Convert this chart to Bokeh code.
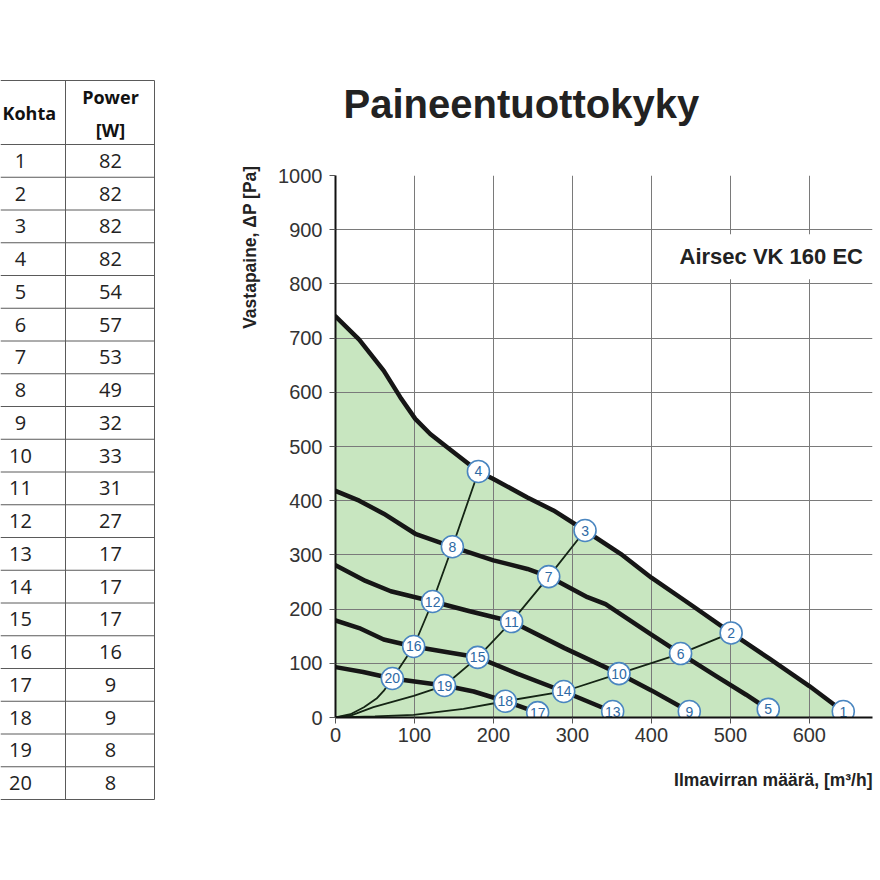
from bokeh.core.properties import value
from bokeh.embed import file_html
from bokeh.layouts import row
from bokeh.models import ColumnDataSource, FixedTicker, Label, Range1d, Title
from bokeh.plotting import figure
from bokeh.resources import INLINE

# table on the left: operating point -> power
kohta = list(range(1, 21))
power_w = [82, 82, 82, 82, 54, 57, 53, 49, 32, 33, 31, 27, 17, 17, 17, 16, 9, 9, 8, 8]

# fan curves, airflow [m3/h] vs pressure [Pa]
curve1_x = [0, 30, 61, 82, 101, 120, 141, 181, 200, 243, 276, 316, 361, 400, 450, 501, 550, 600, 643]
curve1_y = [740, 697, 640, 591, 551, 523, 499, 454, 440, 406, 382, 345, 302, 258, 208, 156, 108, 58, 11]
curve2_x = [0, 30, 61, 101, 148, 200, 243, 270, 319, 342, 400, 437, 480, 520, 548]
curve2_y = [418, 400, 376, 339, 315, 290, 274, 260, 222, 209, 153, 118, 78, 42, 15]
curve3_x = [0, 38, 70, 123, 170, 223, 290, 359, 400, 448]
curve3_y = [281, 252, 233, 214, 196, 177, 128, 81, 50, 11]
curve4_x = [0, 30, 61, 99, 140, 180, 230, 289, 350]
curve4_y = [179, 165, 144, 131, 121, 111, 81, 48, 11]
curve5_x = [0, 35, 72, 138, 175, 215, 256]
curve5_y = [93, 84, 72, 59, 48, 30, 9]

# system curves from the origin
sys1_x = [0, 19, 36, 52, 61, 72, 99, 123, 148, 181]
sys1_y = [0, 6, 19, 35, 49, 72, 131, 214, 315, 454]
sys2_x = [0, 20, 48, 99, 138, 180, 223, 270, 316]
sys2_y = [0, 4, 19, 40, 59, 111, 177, 260, 345]
sys3_x = [0, 50, 99, 162, 215, 289, 359, 437, 501]
sys3_y = [0, 2, 5, 16, 30, 48, 81, 118, 156]

# numbered points 1..20
point_x = [643, 501, 316, 181, 548, 437, 270, 148, 448, 359, 223, 123, 351, 289, 180, 99, 256, 215, 138, 72]
point_y = [11, 156, 345, 454, 15, 118, 260, 315, 11, 81, 177, 214, 11, 48, 111, 131, 9, 30, 59, 72]

x_ticks = [0, 100, 200, 300, 400, 500, 600, 700]
y_ticks = [0, 100, 200, 300, 400, 500, 600, 700, 800, 900, 1000]

H = 860

# ---------------- table ----------------
t = figure(width=200, height=H, x_range=Range1d(0, 200), y_range=Range1d(H, 0),
           toolbar_location=None, output_backend="svg", min_border=0,
           x_axis_location=None, y_axis_location=None)
t.grid.visible = False
t.outline_line_color = None
t.frame_align = False

table_top = 80
header_bottom = 144
row_h = 32.75
col_sep = 65
table_right = 154
table_bottom = header_bottom + len(kohta) * row_h

line_ys = [table_top] + [header_bottom + i * row_h for i in range(len(kohta) + 1)]
t.segment(x0=[0] * len(line_ys), y0=line_ys, x1=[table_right] * len(line_ys), y1=line_ys,
          line_color="#5a5a5a", line_width=1)
t.segment(x0=[col_sep, table_right], y0=[table_top, table_top],
          x1=[col_sep, table_right], y1=[table_bottom, table_bottom],
          line_color="#5a5a5a", line_width=1)

rows_y = [header_bottom + (i + 0.5) * row_h for i in range(len(kohta))]
t.text(x=[20] * len(kohta), y=rows_y, text=[str(k) for k in kohta],
       text_align="center", text_baseline="middle", text_font=value("Open Sans"),
       text_font_size="20px", text_color="#222222")
t.text(x=[110] * len(power_w), y=rows_y, text=[str(w) for w in power_w],
       text_align="center", text_baseline="middle", text_font=value("Open Sans"),
       text_font_size="20px", text_color="#222222")
t.text(x=[2, 110, 110], y=[112, 96, 129], text=["Kohta", "Power", "[W]"],
       text_align=["left", "center", "center"], text_baseline="middle",
       text_font=value("Open Sans"), text_font_style="bold",
       text_font_size="18px", text_color="#111111")

# ---------------- chart ----------------
p = figure(width=680, height=H, x_range=Range1d(0, 680), y_range=Range1d(0, 1000),
           toolbar_location=None, output_backend="svg",
           min_border_left=135, min_border_right=8, min_border_top=175,
           min_border_bottom=H - 717)
p.outline_line_color = None
p.background_fill_color = "white"
p.frame_align = False

p.title.text = "Paineentuottokyky"
p.title.text_font = "Liberation Sans"
p.title.text_font_size = "40px"
p.title.text_font_style = "bold"
p.title.text_color = "#222222"
p.title.align = "left"
p.title.offset = 8
p.title.standoff = 100

p.xaxis.ticker = FixedTicker(ticks=x_ticks)
p.yaxis.ticker = FixedTicker(ticks=y_ticks)
p.axis.axis_line_width = 2
p.axis.axis_line_color = "#111111"
p.axis.major_tick_out = 6
p.axis.major_tick_in = 0
p.axis.minor_tick_out = 0
p.axis.minor_tick_in = 0
p.axis.major_tick_line_color = "#555555"
p.axis.major_label_text_font = "Liberation Sans"
p.axis.major_label_text_font_size = "20px"
p.axis.major_label_text_color = "#333333"
p.xaxis.major_label_standoff = 4
p.yaxis.major_label_standoff = 7
p.grid.grid_line_color = "#7a7a7a"
p.grid.grid_line_width = 1

# axis titles sit at the ends of the axes, as side titles
p.add_layout(Title(text="Vastapaine, \u0394P [Pa]", align="right", offset=-10, standoff=31,
                   text_font="Liberation Sans", text_font_size="17.5px",
                   text_font_style="bold", text_color="#222222"), "left")
p.add_layout(Title(text="Ilmavirran m\u00e4\u00e4r\u00e4, [m\u00b3/h]", align="right",
                   standoff=50, vertical_align="top",
                   text_font="Liberation Sans", text_font_size="17.5px",
                   text_font_style="bold", text_color="#222222"), "below")

# green working area under the max curve
p.varea(x=curve1_x, y1=[0] * len(curve1_x), y2=curve1_y, fill_color="#c8e6c0", level="image")

for cx, cy in [(sys1_x, sys1_y), (sys2_x, sys2_y), (sys3_x, sys3_y)]:
    p.line(cx, cy, line_color="#142414", line_width=1.8)

for cx, cy in [(curve1_x, curve1_y), (curve2_x, curve2_y), (curve3_x, curve3_y),
               (curve4_x, curve4_y), (curve5_x, curve5_y)]:
    p.line(cx, cy, line_color="#161616", line_width=4.5, line_join="round", line_cap="round")

src = ColumnDataSource(data=dict(x=point_x, y=point_y, label=[str(k) for k in kohta]))
p.scatter("x", "y", source=src, size=22, marker="circle", fill_color="white",
          line_color="#4a86c0", line_width=1.6)
p.text("x", "y", text="label", source=src, text_align="center", text_baseline="middle",
       text_font=value("Liberation Sans"), text_font_size="14px", text_color="#2e6aa5")

p.add_layout(Label(x=423, y=850, text="Airsec VK 160 EC", text_baseline="middle",
                   text_font="Liberation Sans", text_font_size="22px", text_font_style="bold",
                   text_color="#222222", background_fill_color="white", padding=10))

layout = row(t, p)
open("out.html", "w").write(file_html(layout, INLINE))
